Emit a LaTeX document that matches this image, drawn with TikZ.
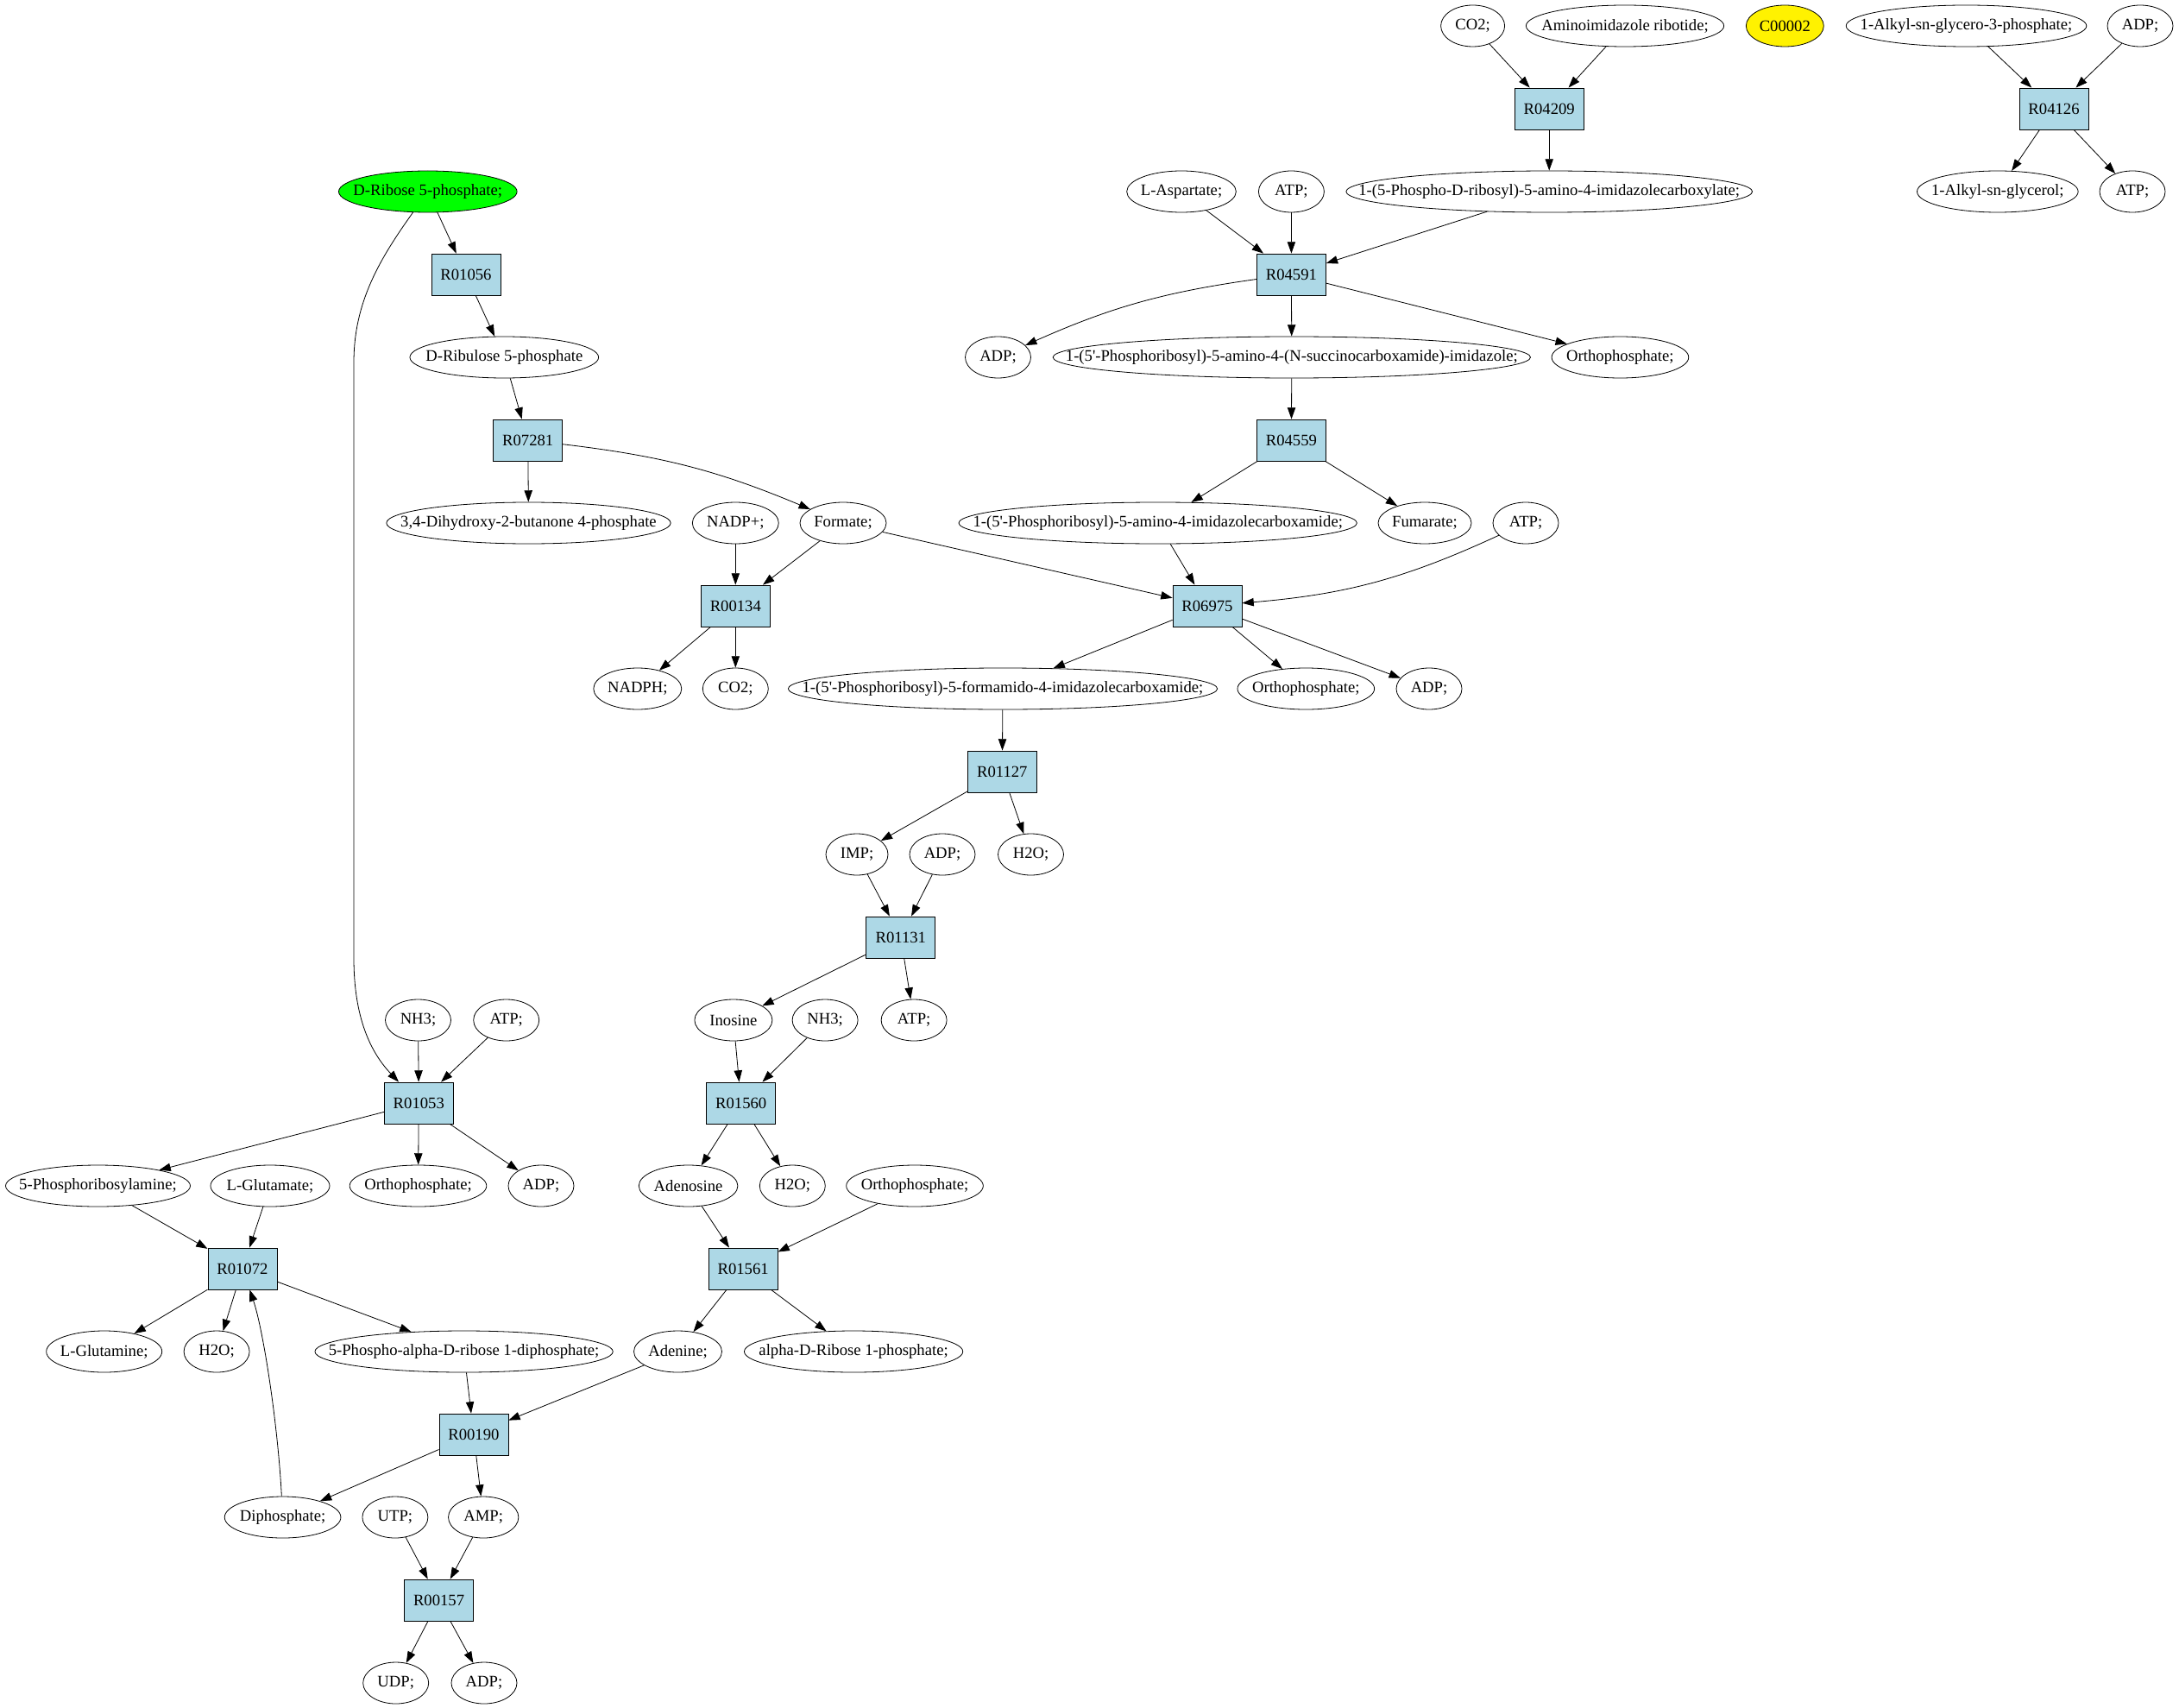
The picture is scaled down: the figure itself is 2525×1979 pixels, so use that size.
\documentclass[tikz,border=0pt]{standalone}
\usepackage{fontspec}
\setmainfont{Liberation Serif}
\usetikzlibrary{shapes.geometric,arrows.meta}
\definecolor{lightblue}{HTML}{ADD8E6}
\tikzstyle{line} = [draw, -{Triangle[length=10pt,width=7pt]}, line width=.6pt]

\begin{document}
\begin{tikzpicture}[
    x=0.75pt, y=-0.75pt,
    font=\fontsize{14}{16}\selectfont,
    met/.style={
      ellipse,
      draw,
      line width=.6pt,
      inner sep=0pt,
      minimum width=57pt,
      minimum height=36pt,
      execute at begin node={\hbox to 0pt\bgroup\hss},
      execute at end node={\hss\egroup}
    },
    rxn/.style={
      draw,
      line width=.6pt,
      fill=lightblue,
      inner sep=0pt,
      minimum width=60pt,
      minimum height=36pt
    }
  ]
  \useasboundingbox (0,0) rectangle (2525,1979);

  % row 1
  \node[met,minimum width=55.5pt] (co2a) at (1706.6,30) {CO2;};
  \node[met,minimum width=172pt] (air) at (1883,30) {Aminoimidazole ribotide;};
  \node[met,minimum width=67.5pt,fill=yellow] (c00002) at (2068.3,30) {C00002};
  \node[met,minimum width=209pt] (alkylgp) at (2278.5,30) {1-Alkyl-sn-glycero-3-phosphate;};
  \node[met] (adpa) at (2480,30) {ADP;};

  \node[rxn] (R04209) at (1795.2,126) {R04209};
  \node[rxn] (R04126) at (2380,126) {R04126};

  \node[met,minimum width=155pt,fill=green] (drib) at (495.8,222) {D-Ribose 5-phosphate;};
  \node[met,minimum width=95pt] (lasp) at (1369,222) {L-Aspartate;};
  \node[met] (atpa) at (1496.4,222) {ATP;};
  \node[met,minimum width=353pt] (caic) at (1795.2,222) {1-(5-Phospho-D-ribosyl)-5-amino-4-imidazolecarboxylate;};
  \node[met,minimum width=140pt] (alkylg) at (2314.8,222) {1-Alkyl-sn-glycerol;};
  \node[met] (atpb) at (2471,222) {ATP;};

  \node[rxn] (R01056) at (540,318) {R01056};
  \node[rxn] (R04591) at (1496.4,318) {R04591};

  \node[met,minimum width=164pt] (drbl) at (584.3,414) {D-Ribulose 5-phosphate};
  \node[met] (adpb) at (1156.5,414) {ADP;};
  \node[met,minimum width=415pt] (saicar) at (1496.8,414) {1-(5\textquotesingle-Phosphoribosyl)-5-amino-4-(N-succinocarboxamide)-imidazole;};
  \node[met,minimum width=119pt] (pia) at (1877.4,414) {Orthophosphate;};

  \node[rxn] (R07281) at (611.7,510) {R07281};
  \node[rxn] (R04559) at (1496.4,510) {R04559};

  \node[met,minimum width=247pt] (dhbp) at (612.5,606) {3,4-Dihydroxy-2-butanone 4-phosphate};
  \node[met,minimum width=75pt] (nadp) at (852.3,606) {NADP+;};
  \node[met,minimum width=75pt] (formate) at (977,606) {Formate;};
  \node[met,minimum width=346pt] (aicar) at (1341.7,606) {1-(5\textquotesingle-Phosphoribosyl)-5-amino-4-imidazolecarboxamide;};
  \node[met,minimum width=81pt] (fum) at (1651,606) {Fumarate;};
  \node[met] (atpc) at (1768,606) {ATP;};

  \node[rxn] (R00134) at (852.3,702) {R00134};
  \node[rxn] (R06975) at (1399,702) {R06975};

  \node[met,minimum width=76.5pt] (nadph) at (738.8,798) {NADPH;};
  \node[met] (co2b) at (852.3,798) {CO2;};
  \node[met,minimum width=373pt] (faicar) at (1162,798) {1-(5\textquotesingle-Phosphoribosyl)-5-formamido-4-imidazolecarboxamide;};
  \node[met,minimum width=119pt] (pib) at (1513.3,798) {Orthophosphate;};
  \node[met] (adpc) at (1656,798) {ADP;};

  \node[rxn] (R01127) at (1161.3,894) {R01127};

  \node[met,minimum width=54pt] (imp) at (993,990) {IMP;};
  \node[met] (adpd) at (1092,990) {ADP;};
  \node[met] (h2oa) at (1194.5,990) {H2O;};

  \node[rxn] (R01131) at (1043.8,1086) {R01131};

  \node[met] (nh3a) at (484.5,1182) {NH3;};
  \node[met] (atpd) at (586.7,1182) {ATP;};
  \node[met,minimum width=67.5pt] (inosine) at (849.9,1182) {Inosine};
  \node[met] (nh3b) at (956.1,1182) {NH3;};
  \node[met] (atpe) at (1059.1,1182) {ATP;};

  \node[rxn] (R01053) at (485.3,1278) {R01053};
  \node[rxn] (R01560) at (858.7,1278) {R01560};

  \node[met,minimum width=160.5pt] (pra) at (113.5,1374) {5-Phosphoribosylamine;};
  \node[met,minimum width=103.5pt] (glu) at (313,1374) {L-Glutamate;};
  \node[met,minimum width=119pt] (pic) at (484.5,1374) {Orthophosphate;};
  \node[met] (adpe) at (627,1374) {ADP;};
  \node[met,minimum width=86pt] (adenosine) at (797.6,1374) {Adenosine};
  \node[met] (h2ob) at (918.3,1374) {H2O;};
  \node[met,minimum width=119pt] (pid) at (1060,1374) {Orthophosphate;};

  \node[rxn] (R01072) at (280.9,1470) {R01072};
  \node[rxn] (R01561) at (861.1,1470) {R01561};

  \node[met,minimum width=100.5pt] (gln) at (120.7,1566) {L-Glutamine;};
  \node[met] (h2oc) at (251.1,1566) {H2O;};
  \node[met,minimum width=259pt] (prpp) at (537.6,1566) {5-Phospho-alpha-D-ribose 1-diphosphate;};
  \node[met,minimum width=76.5pt] (adenine) at (785.5,1566) {Adenine;};
  \node[met,minimum width=190pt] (r1p) at (989.1,1566) {alpha-D-Ribose 1-phosphate;};

  \node[rxn] (R00190) at (548.9,1662) {R00190};

  \node[met,minimum width=101pt] (ppi) at (327.6,1758) {Diphosphate;};
  \node[met] (utp) at (457.9,1758) {UTP;};
  \node[met,minimum width=61pt] (amp) at (560.2,1758) {AMP;};

  \node[rxn] (R00157) at (508.6,1854) {R00157};

  \node[met] (udp) at (458.7,1950) {UDP;};
  \node[met] (adpf) at (561,1950) {ADP;};

  % edges
  \draw[line] (co2a) -- (R04209);
  \draw[line] (air) -- (R04209);
  \draw[line] (R04209) -- (caic);
  \draw[line] (alkylgp) -- (R04126);
  \draw[line] (adpa) -- (R04126);
  \draw[line] (R04126) -- (alkylg);
  \draw[line] (R04126) -- (atpb);

  \draw[line] (lasp) -- (R04591);
  \draw[line] (atpa) -- (R04591);
  \draw[line] (caic) -- (R04591);
  \draw[line] (R04591) to[bend right=8] (adpb);
  \draw[line] (R04591) -- (saicar);
  \draw[line] (R04591) -- (pia);
  \draw[line] (saicar) -- (R04559);
  \draw[line] (R04559) -- (aicar);
  \draw[line] (R04559) -- (fum);

  \draw[line] (aicar) -- (R06975);
  \draw[line] (atpc) to[bend left=10] (R06975);
  \draw[line] (formate) -- (R06975);
  \draw[line] (R06975) -- (faicar);
  \draw[line] (R06975) -- (pib);
  \draw[line] (R06975) -- (adpc);

  \draw[line] (drib) -- (R01056);
  \draw[line] (drib) .. controls (440,300) and (410,350) .. (410,420)
    -- (410,1110) .. controls (410,1180) and (430,1220) .. (R01053);
  \draw[line] (R01056) -- (drbl);
  \draw[line] (drbl) -- (R07281);
  \draw[line] (R07281) -- (dhbp);
  \draw[line] (R07281) to[bend left=8] (formate);

  \draw[line] (nadp) -- (R00134);
  \draw[line] (formate) -- (R00134);
  \draw[line] (R00134) -- (nadph);
  \draw[line] (R00134) -- (co2b);

  \draw[line] (faicar) -- (R01127);
  \draw[line] (R01127) -- (imp);
  \draw[line] (R01127) -- (h2oa);
  \draw[line] (imp) -- (R01131);
  \draw[line] (adpd) -- (R01131);
  \draw[line] (R01131) -- (inosine);
  \draw[line] (R01131) -- (atpe);

  \draw[line] (inosine) -- (R01560);
  \draw[line] (nh3b) -- (R01560);
  \draw[line] (R01560) -- (adenosine);
  \draw[line] (R01560) -- (h2ob);
  \draw[line] (adenosine) -- (R01561);
  \draw[line] (pid) -- (R01561);
  \draw[line] (R01561) -- (adenine);
  \draw[line] (R01561) -- (r1p);

  \draw[line] (nh3a) -- (R01053);
  \draw[line] (atpd) -- (R01053);
  \draw[line] (R01053) -- (pra);
  \draw[line] (R01053) -- (pic);
  \draw[line] (R01053) -- (adpe);

  \draw[line] (pra) -- (R01072);
  \draw[line] (glu) -- (R01072);
  \draw[line] (R01072) -- (gln);
  \draw[line] (R01072) -- (h2oc);
  \draw[line] (R01072) -- (prpp);
  \draw[line] (ppi) .. controls (322,1650) and (305,1540) .. (R01072);

  \draw[line] (prpp) -- (R00190);
  \draw[line] (adenine) -- (R00190);
  \draw[line] (R00190) -- (ppi);
  \draw[line] (R00190) -- (amp);
  \draw[line] (utp) -- (R00157);
  \draw[line] (amp) -- (R00157);
  \draw[line] (R00157) -- (udp);
  \draw[line] (R00157) -- (adpf);

\end{tikzpicture}
\end{document}
